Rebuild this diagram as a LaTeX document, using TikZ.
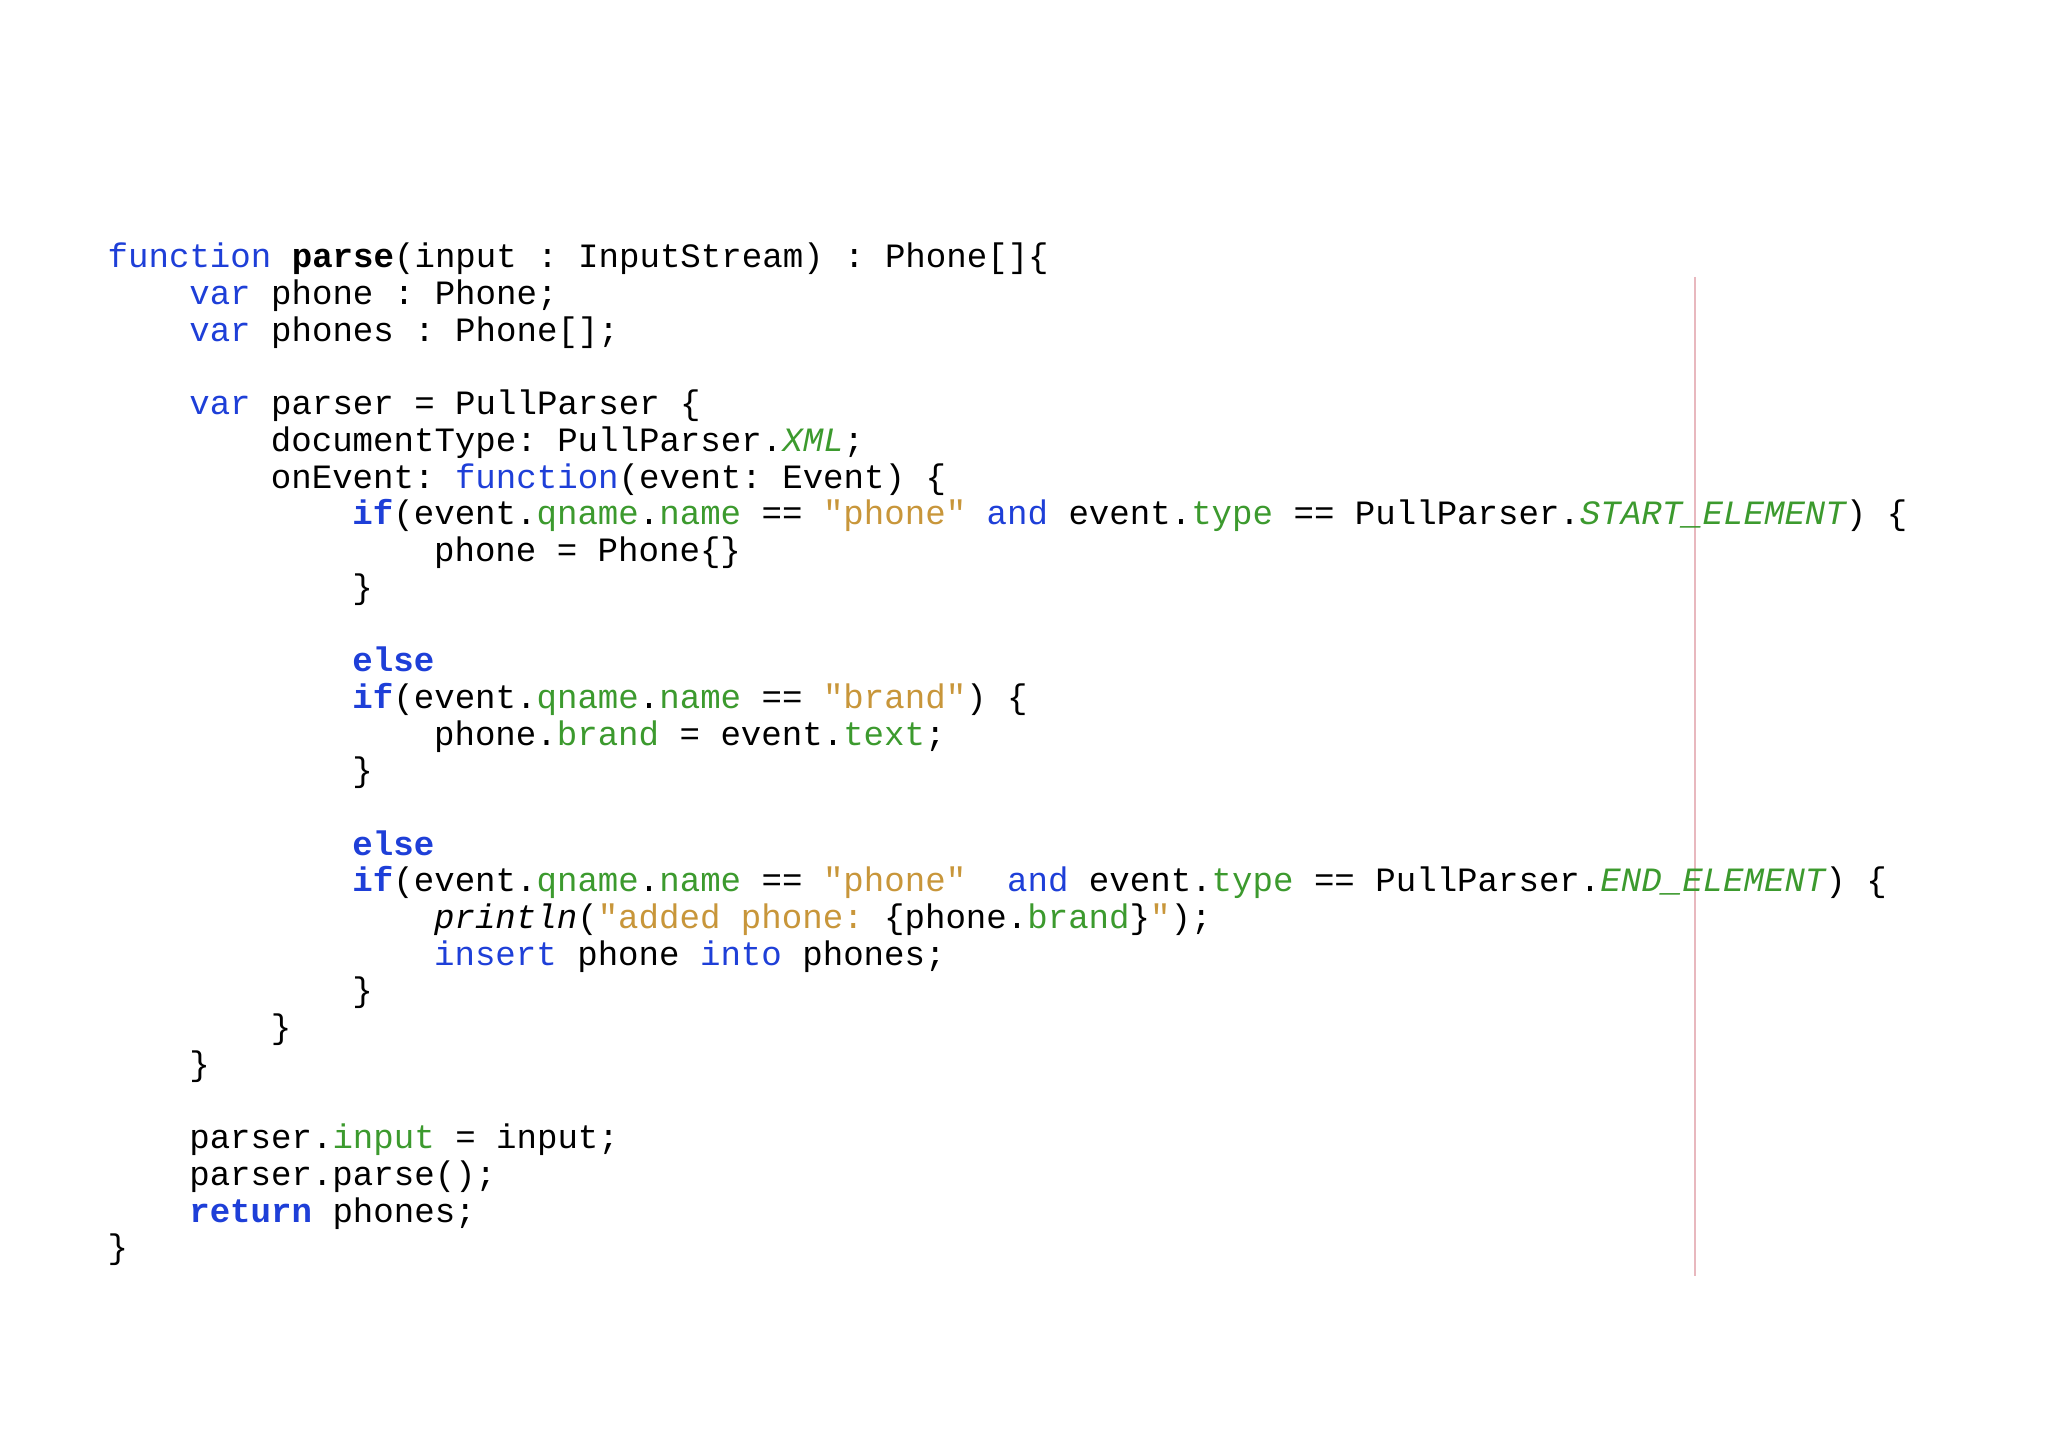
\documentclass[tikz,border=0pt]{standalone}
\usepackage{fontspec}
\setmonofont{Liberation Mono}
\definecolor{kwc}{HTML}{1E3FD8}
\definecolor{grc}{HTML}{3C9A2E}
\definecolor{stc}{HTML}{C8963A}
\definecolor{vl}{HTML}{E8B8BE}
\newcommand{\kw}[1]{\textcolor{kwc}{#1}}
\newcommand{\kwb}[1]{\textcolor{kwc}{\bfseries #1}}
\newcommand{\gr}[1]{\textcolor{grc}{#1}}
\newcommand{\gri}[1]{\textcolor{grc}{\itshape #1}}
\newcommand{\st}[1]{\textcolor{stc}{#1}}
\begin{document}
\begin{tikzpicture}[x=1cm,y=1cm,
  ln/.style={anchor=base west,inner sep=0pt,font=\ttfamily\fontsize{9.7pt}{10pt}\selectfont}]
\useasboundingbox (0,0) rectangle (20.48,14.47);
\fill[white] (0,0) rectangle (20.48,14.47);
\draw[vl,line width=0.6pt] (16.95,11.70) -- (16.95,1.71);
\def\L#1#2#3{\node[ln] (l#1) at ({1.07+#2*0.204},{11.79-0.367*(#1-1)}) {#3};}
\L{1}{0}{\kw{function} \textbf{parse}(input : InputStream) : Phone[]\{}
\L{2}{4}{\kw{var} phone : Phone;}
\L{3}{4}{\kw{var} phones : Phone[];}
\L{5}{4}{\kw{var} parser = PullParser \{}
\L{6}{8}{documentType: PullParser.\gri{XML};}
\L{7}{8}{onEvent: \kw{function}(event: Event) \{}
\L{8}{12}{\kwb{if}(event.\gr{qname}.\gr{name} == \st{"phone"} \kw{and} event.\gr{type} == PullParser.\gri{START\_ELEMENT}) \{}
\L{9}{16}{phone = Phone\{\}}
\L{10}{12}{\}}
\L{12}{12}{\kwb{else}}
\L{13}{12}{\kwb{if}(event.\gr{qname}.\gr{name} == \st{"brand"}) \{}
\L{14}{16}{phone.\gr{brand} = event.\gr{text};}
\L{15}{12}{\}}
\L{17}{12}{\kwb{else}}
\L{18}{12}{\kwb{if}(event.\gr{qname}.\gr{name} == \st{"phone"}~~\kw{and} event.\gr{type} == PullParser.\gri{END\_ELEMENT}) \{}
\L{19}{16}{\textit{println}(\st{"added phone: }\{phone.\gr{brand}\}\st{"});}
\L{20}{16}{\kw{insert} phone \kw{into} phones;}
\L{21}{12}{\}}
\L{22}{8}{\}}
\L{23}{4}{\}}
\L{25}{4}{parser.\gr{input} = input;}
\L{26}{4}{parser.parse();}
\L{27}{4}{\kwb{return} phones;}
\L{28}{0}{\}}
\end{tikzpicture}
\end{document}
